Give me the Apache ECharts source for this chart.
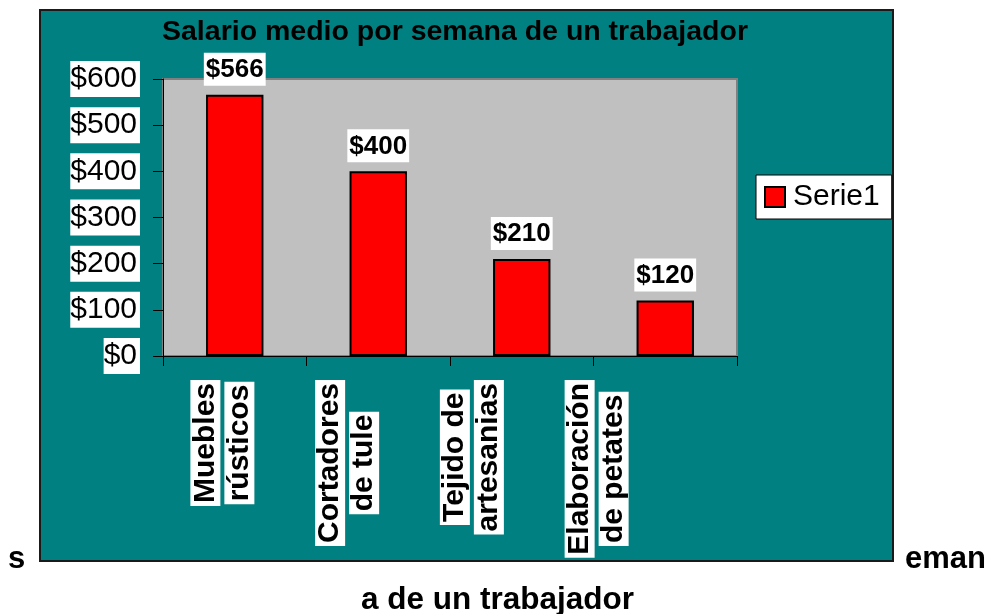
<!DOCTYPE html>
<html>
<head>
<meta charset="utf-8">
<script src="https://cdn.jsdelivr.net/npm/echarts@6.0.0/dist/echarts.min.js"></script>
<style>
  html, body { margin: 0; padding: 0; background: #fff; }
  #chart { width: 990px; height: 614px; }
</style>
</head>
<body>
<div id="chart"></div>
<script>
  // data
  const categories = ['Muebles\nrústicos', 'Cortadores\nde tule', 'Tejido de\nartesanias', 'Elaboración\nde petates']
  const salaries = [566, 400, 210, 120]
  const seriesName = 'Serie1'
  const yTicks = [0, 600, 100]  // min, max, interval

  const font = '"Liberation Sans", Arial, sans-serif'

  const chart = echarts.init(document.getElementById('chart'))

  const option = {
    backgroundColor: '#fff',
    animation: false,
    graphic: [{
      type: 'rect',
      z: -10,
      shape: { x: 40, y: 10, width: 853, height: 551 },
      style: { fill: '#008080', stroke: '#1a1a1a', lineWidth: 2 }
    }],
    title: [{
      text: 'Salario medio por semana de un trabajador',
      left: 162,
      top: 18,
      padding: 0,
      textStyle: { fontFamily: font, fontSize: 28.5, fontWeight: 'bold', color: '#000' }
    }, {
      text: 's',
      left: 8,
      top: 544,
      padding: 0,
      textStyle: { fontFamily: font, fontSize: 31, fontWeight: 'bold', color: '#000' }
    }, {
      text: 'eman',
      left: 905,
      top: 544,
      padding: 0,
      textStyle: { fontFamily: font, fontSize: 31, fontWeight: 'bold', color: '#000' }
    }, {
      text: 'a de un trabajador',
      left: 361,
      top: 584,
      padding: 0,
      textStyle: { fontFamily: font, fontSize: 31.5, fontWeight: 'bold', color: '#000' }
    }],
    legend: {
      data: [seriesName],
      left: 756,
      top: 175,
      orient: 'vertical',
      backgroundColor: '#fff',
      borderColor: '#000',
      borderWidth: 1,
      padding: [7, 12, 7, 8],
      itemWidth: 20,
      itemHeight: 20,
      itemGap: 0,
      icon: 'rect',
      itemStyle: { borderColor: '#000', borderWidth: 2 },
      textStyle: { fontFamily: font, fontSize: 30, color: '#000', padding: [0, 0, 0, 3] }
    },
    grid: [{
      left: 163, top: 79, right: 253, bottom: 258,
      show: true,
      backgroundColor: '#c0c0c0',
      borderColor: '#808080',
      borderWidth: 2
    }, {
      // labels sit a little off the categories in the original
      left: 160, top: 79, width: 499, bottom: 258
    }],
    xAxis: [{
      type: 'category',
      gridIndex: 0,
      data: categories,
      axisLine: { lineStyle: { color: '#000', width: 1 } },
      axisTick: { show: true, length: 10, lineStyle: { color: '#000' } },
      axisLabel: { show: false }
    }, {
      type: 'category',
      gridIndex: 1,
      data: categories,
      axisLine: { show: false },
      axisTick: { show: false },
      axisLabel: {
        rotate: 90,
        margin: 24,
        interval: 0,
        formatter: v => v.split('\n').map(s => '{a|' + s + '}').join('\n'),
        rich: {
          a: {
            fontFamily: font,
            fontSize: 30,
            fontWeight: 'bold',
            color: '#000',
            backgroundColor: '#fff',
            align: 'center',
            lineHeight: 34,
            padding: [0, 3, 0, 3]
          }
        }
      }
    }],
    yAxis: [{
      type: 'value',
      gridIndex: 0,
      min: yTicks[0],
      max: yTicks[1],
      interval: yTicks[2],
      splitLine: { show: false },
      axisLine: { show: true, lineStyle: { color: '#000', width: 1 } },
      axisTick: { show: true, length: 10, lineStyle: { color: '#000' } },
      axisLabel: {
        margin: 23,
        formatter: v => '$' + v,
        fontFamily: font,
        fontSize: 30,
        color: '#000',
        backgroundColor: '#fff',
        lineHeight: 30,
        padding: [3, 3, 3, 0]
      }
    }, {
      type: 'value',
      gridIndex: 1,
      show: false
    }],
    series: [{
      name: seriesName,
      type: 'bar',
      xAxisIndex: 0,
      yAxisIndex: 0,
      data: salaries,
      barWidth: '40%',
      itemStyle: { color: '#ff0000', borderColor: '#000', borderWidth: 2 },
      label: {
        show: true,
        position: 'top',
        distance: 9,
        formatter: p => '$' + p.value,
        fontFamily: font,
        fontSize: 26,
        fontWeight: 'bold',
        color: '#000',
        backgroundColor: '#fff',
        padding: [4, 2, 3, 2]
      }
    }]
  }

  chart.setOption(option)
</script>
</body>
</html>
